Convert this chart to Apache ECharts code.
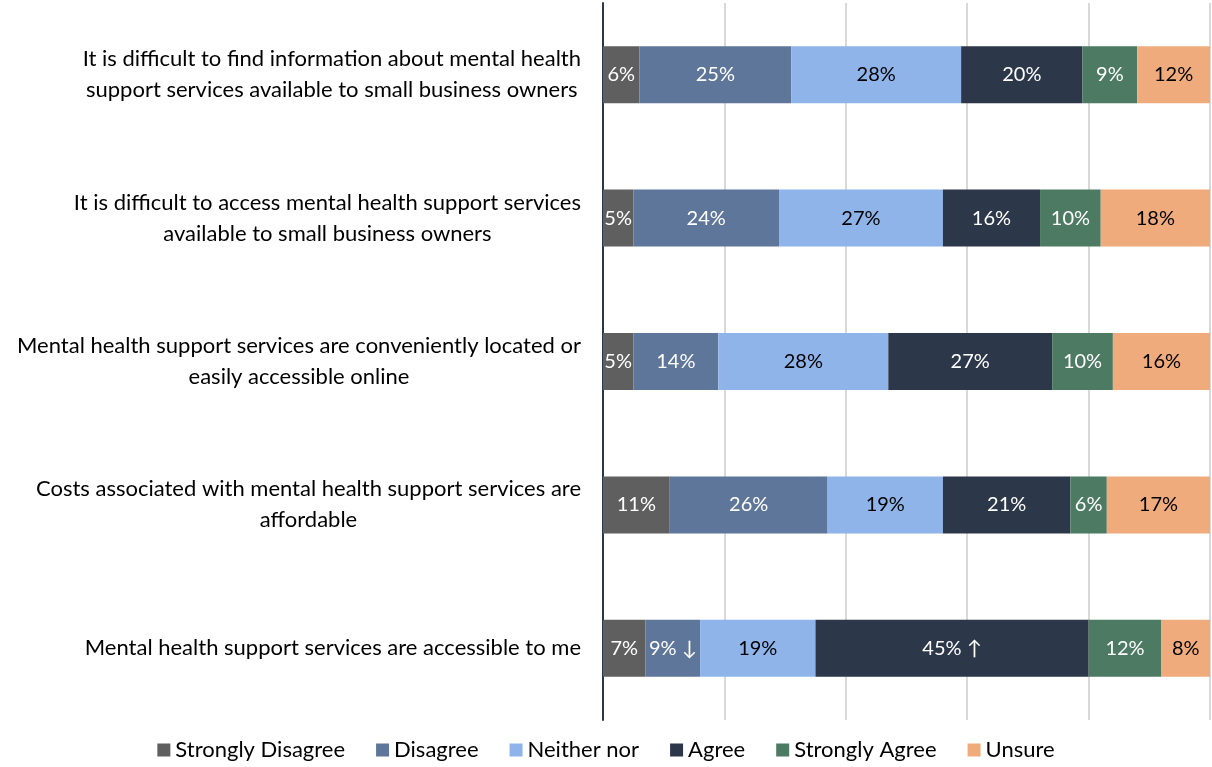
<!DOCTYPE html>
<html>
<head>
<meta charset="utf-8">
<script src="https://cdn.jsdelivr.net/npm/echarts@6/dist/echarts.min.js"></script>
<style>
  html, body { margin: 0; padding: 0; background: #fff; }
  #chart { width: 1212px; height: 767px; }
</style>
</head>
<body>
<div id="chart"></div>
<script>
// statements, top to bottom
const categories = [
  'It is difficult to find information about mental health\nsupport services available to small business owners',
  'It is difficult to access mental health support services\navailable to small business owners',
  'Mental health support services are conveniently located or\neasily accessible online',
  'Costs associated with mental health support services are\naffordable',
  'Mental health support services are accessible to me'
]

const seriesNames = ['Strongly Disagree', 'Disagree', 'Neither nor', 'Agree', 'Strongly Agree', 'Unsure']
const stronglyDisagree = [6, 5, 5, 11, 7]
const disagree = [25, 24, 14, 26, 9]
const neither = [28, 27, 28, 19, 19]
const agree = [20, 16, 27, 21, 45]
const stronglyAgree = [9, 10, 10, 6, 12]
const unsure = [12, 18, 16, 17, 8]

// significance arrows shown after some labels
const disagreeMarks = ['', '', '', '', ' ↓']
const agreeMarks = ['', '', '', '', ' ↑']

const xTicks = [0, 20, 40, 60, 80, 100]

const colors = ['#5f5f5f', '#5e7699', '#8eb4ea', '#2d374a', '#4d7a62', '#f0ab7d']
const labelColors = ['#fff', '#fff', '#000', '#fff', '#fff', '#000']
const font = 'Lato, "Open Sans", sans-serif'

const chart = echarts.init(document.getElementById('chart'))

function makeSeries(idx, data, marks) {
  return {
    name: seriesNames[idx],
    type: 'bar',
    stack: 'total',
    barWidth: 57,
    data: data,
    itemStyle: { color: colors[idx] },
    label: {
      show: true,
      position: 'inside',
      color: labelColors[idx],
      fontFamily: font,
      fontSize: 20,
      formatter: function(p) {
        return p.value + '%' + (marks ? marks[p.dataIndex] : '')
      }
    },
    emphasis: { disabled: true },
    animation: false
  }
}

chart.setOption({
  textStyle: { fontFamily: font },
  grid: {
    left: 603,
    right: 2,
    top: 3,
    bottom: 47
  },
  legend: {
    bottom: 1,
    left: 'center',
    itemWidth: 13,
    itemHeight: 13,
    itemGap: 31,
    icon: 'rect',
    textStyle: { fontSize: 22, color: '#000', fontFamily: font },
    data: seriesNames
  },
  xAxis: {
    type: 'value',
    min: xTicks[0],
    max: xTicks[xTicks.length - 1],
    interval: xTicks[1] - xTicks[0],
    axisLabel: { show: false },
    axisLine: { show: false },
    axisTick: { show: false },
    splitLine: { lineStyle: { color: '#d9d9d9', width: 2 } }
  },
  yAxis: {
    type: 'category',
    inverse: true,
    data: categories,
    axisLine: { show: true, lineStyle: { color: '#2d374a', width: 2 } },
    axisTick: { show: false },
    axisLabel: {
      margin: 22,
      color: '#000',
      fontSize: 22,
      lineHeight: 31,
      formatter: function(v) {
        return v.split('\n').map(function(s) { return '{c|' + s + '}' }).join('\n')
      },
      rich: {
        c: { align: 'center', fontSize: 22, lineHeight: 31, color: '#000', fontFamily: font }
      }
    }
  },
  series: [
    makeSeries(0, stronglyDisagree),
    makeSeries(1, disagree, disagreeMarks),
    makeSeries(2, neither),
    makeSeries(3, agree, agreeMarks),
    makeSeries(4, stronglyAgree),
    makeSeries(5, unsure)
  ]
})
</script>
</body>
</html>
